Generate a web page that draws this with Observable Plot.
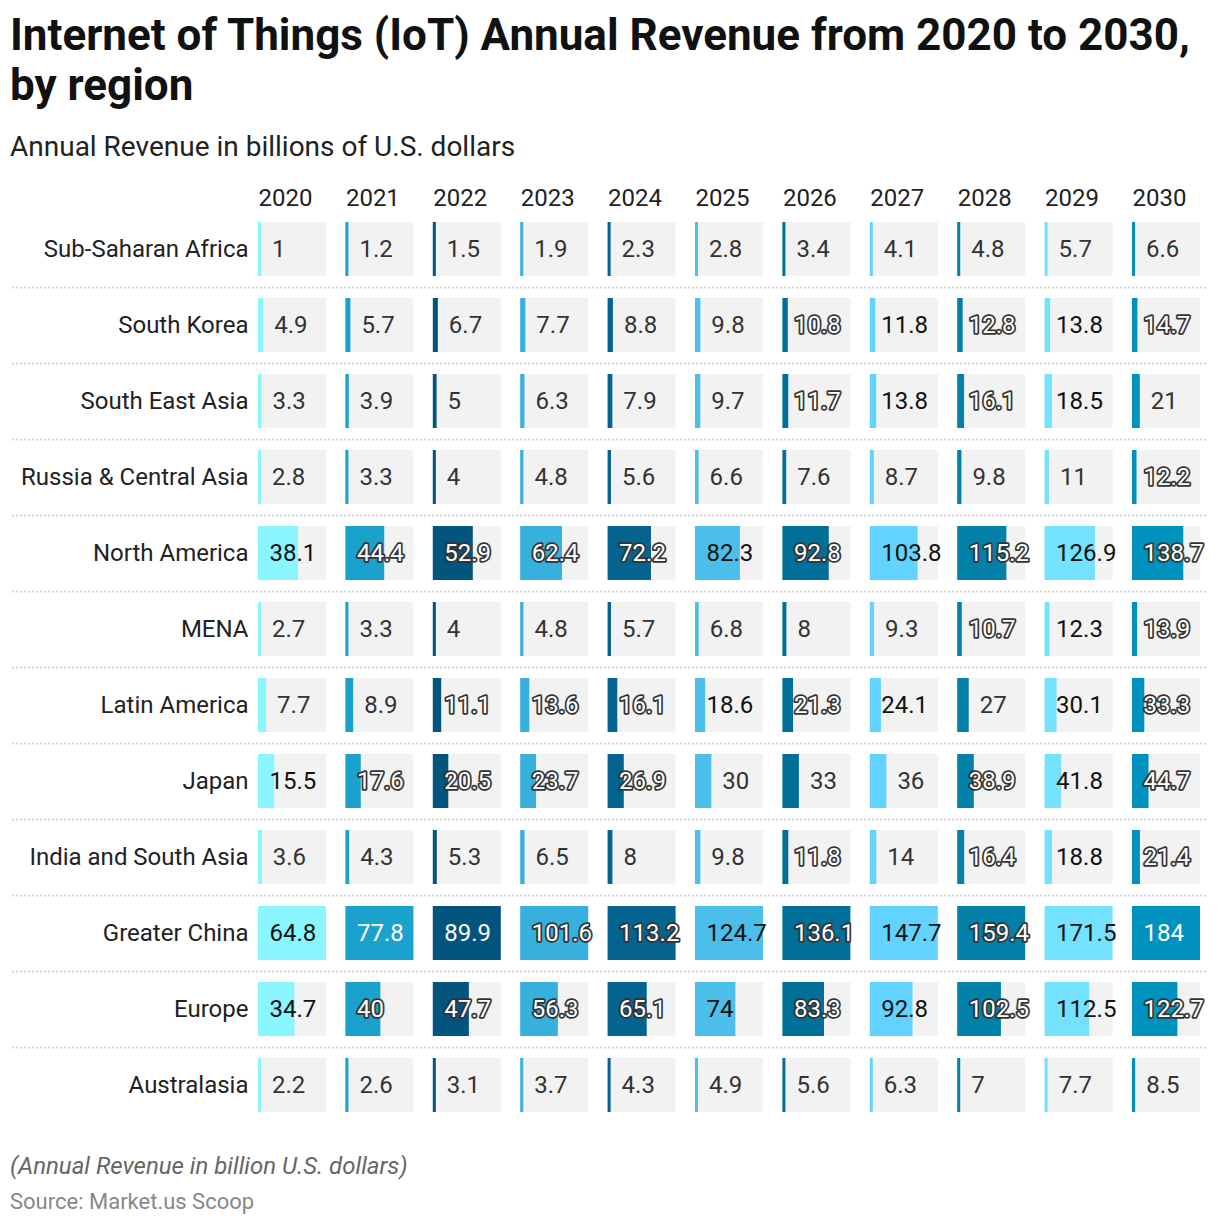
<!DOCTYPE html>
<html><head><meta charset="utf-8">
<script src="https://cdn.jsdelivr.net/npm/d3@7"></script>
<script src="https://cdn.jsdelivr.net/npm/@observablehq/plot@0.6"></script>
<style>
html,body{margin:0;background:#fff;font-family:Roboto,sans-serif;overflow:hidden;}
#wrap{width:1220px;}
h1{margin:10px 0 0 10px;font-size:44px;line-height:50px;font-weight:700;color:#111;}
.sub{margin:21px 0 0 10px;font-size:28px;line-height:32px;color:#222;}
.cap{margin:19px 0 0 10px;font-size:24px;line-height:30px;font-style:italic;color:#666;}
.src{margin:7px 0 0 10px;font-size:22px;line-height:28px;color:#888;}
#chart svg{display:block;max-width:none !important;}
</style></head>
<body>
<div id="wrap">
<h1>Internet of Things (IoT) Annual Revenue from 2020 to 2030,<br>by region</h1>
<div class="sub">Annual Revenue in billions of U.S. dollars</div>
<div id="chart"></div>
<div class="cap">(Annual Revenue in billion U.S. dollars)</div>
<div class="src">Source: Market.us Scoop</div>
</div>
<script>
const years = ["2020","2021","2022","2023","2024","2025","2026","2027","2028","2029","2030"];
const yearColors = ["#88f5ff","#1aa1cc","#03557d","#38b0de","#05638f","#4bbee9","#026f98","#62d3fe","#0280a8","#74e2fe","#0092bf"];
const regions = ["Sub-Saharan Africa","South Korea","South East Asia","Russia & Central Asia","North America","MENA","Latin America","Japan","India and South Asia","Greater China","Europe","Australasia"];
const subSaharanAfrica = [1,1.2,1.5,1.9,2.3,2.8,3.4,4.1,4.8,5.7,6.6];
const southKorea = [4.9,5.7,6.7,7.7,8.8,9.8,10.8,11.8,12.8,13.8,14.7];
const southEastAsia = [3.3,3.9,5,6.3,7.9,9.7,11.7,13.8,16.1,18.5,21];
const russiaCentralAsia = [2.8,3.3,4,4.8,5.6,6.6,7.6,8.7,9.8,11,12.2];
const northAmerica = [38.1,44.4,52.9,62.4,72.2,82.3,92.8,103.8,115.2,126.9,138.7];
const mena = [2.7,3.3,4,4.8,5.7,6.8,8,9.3,10.7,12.3,13.9];
const latinAmerica = [7.7,8.9,11.1,13.6,16.1,18.6,21.3,24.1,27,30.1,33.3];
const japan = [15.5,17.6,20.5,23.7,26.9,30,33,36,38.9,41.8,44.7];
const indiaSouthAsia = [3.6,4.3,5.3,6.5,8,9.8,11.8,14,16.4,18.8,21.4];
const greaterChina = [64.8,77.8,89.9,101.6,113.2,124.7,136.1,147.7,159.4,171.5,184];
const europe = [34.7,40,47.7,56.3,65.1,74,83.3,92.8,102.5,112.5,122.7];
const australasia = [2.2,2.6,3.1,3.7,4.3,4.9,5.6,6.3,7,7.7,8.5];
const values = [subSaharanAfrica,southKorea,southEastAsia,russiaCentralAsia,northAmerica,mena,latinAmerica,japan,indiaSouthAsia,greaterChina,europe,australasia];

// layout
const W = 1220, H = 969, ML = 258, MR = 20, MT = 48, MB = 9;
const FXPAD = 0.222;
const CELLH = 54;
const FS = 24;
const fxStep = (W - ML - MR) / (years.length - FXPAD);
const cellW = fxStep * (1 - FXPAD);
const yStep = (H - MT - MB) / regions.length;
const yInset = (yStep - CELLH) / 2;
const MINBAR = 3, GAP = 10.5, PAD = 11;
const textWidth = s => Array.from(s).reduce((a, c) => a + (c === "." ? 0.26 : 0.562) * FS, 0);

const colMax = years.map((y, j) => d3.max(values, v => v[j]));
const isDark = years.map((y, j) => d3.lab(yearColors[j]).l < 70);

const data = regions.flatMap((r, i) => years.map((y, j) => {
  const value = values[i][j];
  const frac = value / colMax[j];
  const barW = Math.max(frac * cellW, MINBAR);
  const label = String(value);
  const tw = textWidth(label);
  let kind;
  if (barW + GAP + tw <= cellW - PAD) kind = "after";
  else if (!isDark[j]) kind = "light";
  else if (frac * cellW >= PAD + tw + 4) kind = "white";
  else kind = "outline";
  return {region: r, year: y, value, label, barFrac: barW / cellW, kind};
}));

const seps = regions.slice(0, -1).map(r => ({region: r, year: years[0]}));

const chart = Plot.plot({
  width: W, height: H,
  marginLeft: ML, marginRight: MR, marginTop: MT, marginBottom: MB,
  style: {fontFamily: "Roboto, sans-serif", fontSize: FS + "px", color: "#222", background: "#fff", overflow: "visible"},
  fx: {domain: years, padding: 0, paddingInner: FXPAD, round: false, label: null},
  y: {domain: regions, padding: 0, round: false, label: null},
  x: {domain: [0, 1], axis: null},
  color: {domain: years, range: yearColors},
  marks: [
    Plot.ruleY(seps, {fx: "year", y: "region", dy: yStep / 2, stroke: "#d2d2d2", strokeWidth: 2, strokeDasharray: "2,2",
      insetLeft: -(ML - 12), insetRight: -(1208 - (ML + cellW))}),
    Plot.barX(data, {fx: "year", y: "region", x1: 0, x2: 1, fill: "#f2f2f2", insetTop: yInset, insetBottom: yInset}),
    Plot.barX(data, {fx: "year", y: "region", x1: 0, x2: "barFrac", fill: "year", insetTop: yInset, insetBottom: yInset}),
    Plot.text(data.filter(d => d.kind === "after"), {fx: "year", y: "region", x: "barFrac", dx: GAP, text: "label", textAnchor: "start", fill: "#333", fontSize: FS}),
    Plot.text(data.filter(d => d.kind === "light"), {fx: "year", y: "region", x: 0, dx: PAD, text: "label", textAnchor: "start", fill: "#111", fontSize: FS}),
    Plot.text(data.filter(d => d.kind === "white"), {fx: "year", y: "region", x: 0, dx: PAD, text: "label", textAnchor: "start", fill: "#fff", fontSize: FS}),
    Plot.text(data.filter(d => d.kind === "outline"), {fx: "year", y: "region", x: 0, dx: PAD, text: "label", textAnchor: "start", fill: "#fff", stroke: "#333", strokeWidth: 3.5, fontSize: FS}),
    Plot.axisFx({anchor: "top", label: null, tickSize: 0, tickPadding: 6, fontSize: FS, textAnchor: "start", dx: -cellW / 2}),
    Plot.axisY({anchor: "left", label: null, tickSize: 0, tickPadding: 10, fontSize: FS})
  ]
});
document.getElementById("chart").appendChild(chart);
</script>
</body></html>
